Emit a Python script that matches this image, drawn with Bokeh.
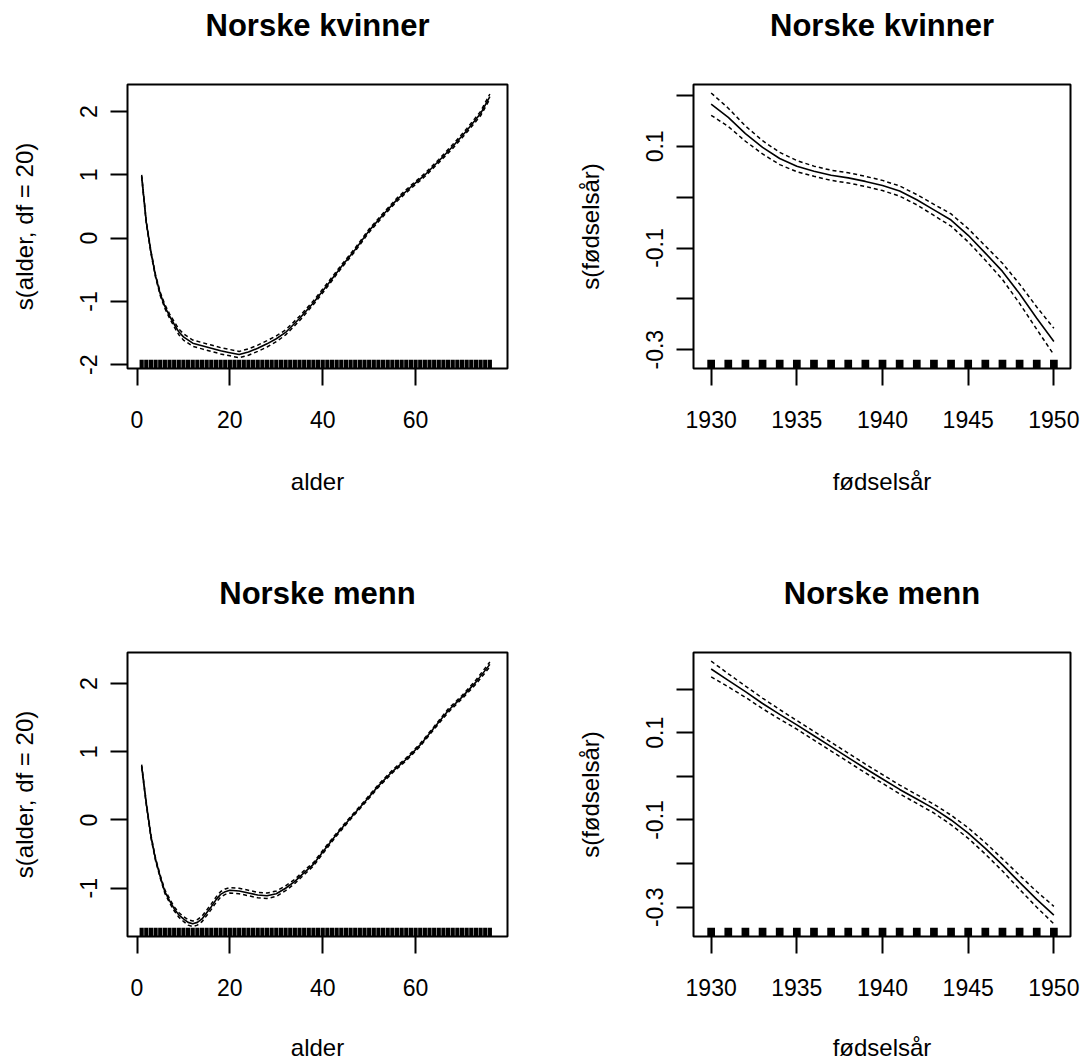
from bokeh.plotting import figure
from bokeh.layouts import gridplot
from bokeh.models import FixedTicker, PrintfTickFormatter, Range1d, LinearAxis
from bokeh.embed import file_html
from bokeh.resources import INLINE

FONT = "Liberation Sans"

# ---------------- data ----------------
# Norske kvinner: s(alder, df = 20)
age_k = [1, 2, 3, 4, 5, 6, 7, 8, 9, 10, 12, 14, 16, 18, 20, 22, 24, 26, 28, 30,
         32, 35, 38, 41, 44, 47, 50, 53, 56, 59, 62, 65, 68, 71, 74, 76]
fit_age_k = [0.98, 0.25, -0.22, -0.60, -0.88, -1.08, -1.23, -1.36, -1.48, -1.56,
             -1.66, -1.70, -1.74, -1.78, -1.81, -1.84, -1.80, -1.74, -1.67, -1.59,
             -1.49, -1.27, -1.02, -0.74, -0.45, -0.18, 0.12, 0.37, 0.61, 0.81,
             1.00, 1.22, 1.45, 1.70, 1.97, 2.24]
se_age_k = [0.02, 0.02, 0.02, 0.02, 0.025, 0.03, 0.035, 0.04, 0.045, 0.05,
            0.05, 0.05, 0.05, 0.05, 0.05, 0.05, 0.05, 0.05, 0.05, 0.045,
            0.04, 0.035, 0.03, 0.03, 0.025, 0.025, 0.025, 0.025, 0.025, 0.025,
            0.025, 0.025, 0.03, 0.03, 0.035, 0.04]

# Norske menn: s(alder, df = 20)
age_m = [1, 2, 3, 4, 5, 6, 7, 8, 9, 10, 11, 12, 13, 14, 15, 16, 17, 18, 19, 20,
         22, 24, 26, 28, 30, 32, 34, 36, 38, 40, 43, 46, 49, 52, 55, 58, 61, 64,
         67, 70, 73, 76]
fit_age_m = [0.79, 0.24, -0.24, -0.58, -0.83, -1.05, -1.18, -1.30, -1.39, -1.45,
             -1.50, -1.52, -1.50, -1.45, -1.36, -1.27, -1.17, -1.09, -1.05, -1.03,
             -1.04, -1.07, -1.10, -1.11, -1.08, -1.00, -0.90, -0.77, -0.65, -0.47,
             -0.21, 0.03, 0.26, 0.50, 0.71, 0.89, 1.10, 1.35, 1.60, 1.80, 2.02, 2.28]
se_age_m = [0.02, 0.02, 0.02, 0.02, 0.02, 0.025, 0.03, 0.03, 0.035, 0.035,
            0.04, 0.04, 0.04, 0.04, 0.04, 0.04, 0.04, 0.04, 0.04, 0.04,
            0.04, 0.04, 0.04, 0.04, 0.04, 0.035, 0.03, 0.03, 0.025, 0.025,
            0.02, 0.02, 0.02, 0.02, 0.02, 0.02, 0.02, 0.02, 0.025, 0.025, 0.03, 0.035]

# fødselsår
years = [1930, 1931, 1932, 1933, 1934, 1935, 1936, 1937, 1938, 1939, 1940,
         1941, 1942, 1943, 1944, 1945, 1946, 1947, 1948, 1949, 1950]
fit_year_k = [0.183, 0.157, 0.125, 0.098, 0.076, 0.061, 0.051, 0.043, 0.038, 0.031, 0.023,
              0.012, -0.005, -0.025, -0.045, -0.075, -0.110, -0.146, -0.190, -0.238, -0.284]
se_year_k = [0.022, 0.018, 0.015, 0.013, 0.012, 0.011, 0.010, 0.010, 0.010, 0.010, 0.010,
             0.010, 0.010, 0.011, 0.012, 0.013, 0.014, 0.016, 0.019, 0.022, 0.026]
fit_year_m = [0.246, 0.220, 0.194, 0.167, 0.142, 0.118, 0.093, 0.068, 0.043, 0.018, -0.006,
              -0.030, -0.052, -0.074, -0.100, -0.130, -0.165, -0.203, -0.243, -0.282, -0.318]
se_year_m = [0.018, 0.015, 0.013, 0.012, 0.011, 0.010, 0.010, 0.010, 0.010, 0.010, 0.010,
             0.010, 0.010, 0.010, 0.011, 0.012, 0.013, 0.014, 0.016, 0.018, 0.020]

# rug positions
rug_age = list(range(1, 77))
rug_year = years

# tick values
age_ticks = [0, 20, 40, 60]
year_ticks = [1930, 1935, 1940, 1945, 1950]
age_y_ticks = [-2, -1, 0, 1, 2]
year_y_labeled = [-0.3, -0.1, 0.1]
year_y_unlabeled = [-0.2, 0.0, 0.2]

titles = ["Norske kvinner", "Norske kvinner", "Norske menn", "Norske menn"]


def panel(title, x, fit, se, rug, rug_w, xr, yr, xticks, yticks, yminor,
          xlabel, ylabel, w, h, bl, br, bt, bb, xfmt, yfmt, xlab_standoff):
    p = figure(width=w, height=h, x_range=Range1d(*xr), y_range=Range1d(*yr),
               output_backend="svg", toolbar_location=None, title_location=None,
               min_border_left=bl, min_border_right=br,
               min_border_top=bt, min_border_bottom=bb,
               background_fill_color="white", border_fill_color="white")
    p.grid.visible = False
    p.outline_line_color = "black"
    p.outline_line_width = 2
    p.outline_line_alpha = 1.0

    xax = p.below[0]
    yax = p.left[0]
    for ax in (xax, yax):
        ax.axis_line_color = None
        ax.major_tick_in = 0
        ax.major_tick_out = 17
        ax.major_tick_line_width = 2
        ax.major_tick_line_color = "black"
        ax.minor_tick_in = 0
        ax.minor_tick_out = 17
        ax.minor_tick_line_width = 2
        ax.minor_tick_line_color = "black"
        ax.major_label_text_font = FONT
        ax.major_label_text_font_size = "23px"
        ax.major_label_text_color = "black"
        ax.axis_label_text_font = FONT
        ax.axis_label_text_font_size = "24px"
        ax.axis_label_text_font_style = "normal"
        ax.axis_label_text_color = "black"

    xax.ticker = FixedTicker(ticks=xticks, minor_ticks=[])
    yax.ticker = FixedTicker(ticks=yticks, minor_ticks=yminor)
    xax.formatter = PrintfTickFormatter(format=xfmt)
    yax.formatter = PrintfTickFormatter(format=yfmt)
    yax.major_label_orientation = "vertical"
    xax.axis_label = xlabel
    yax.axis_label = ylabel
    xax.major_label_standoff = 25
    xax.axis_label_standoff = xlab_standoff
    yax.major_label_standoff = 13
    yax.axis_label_standoff = 40

    # main title, drawn as the label of a tick-less axis above the box
    title_axis = LinearAxis(ticker=FixedTicker(ticks=[], minor_ticks=[]),
                            axis_line_color=None, major_tick_line_color=None,
                            minor_tick_line_color=None, major_tick_out=0, major_tick_in=0,
                            minor_tick_out=0, minor_tick_in=0,
                            major_label_standoff=0, major_label_text_font_size="0px",
                            axis_label=title, axis_label_standoff=42,
                            axis_label_text_font=FONT, axis_label_text_font_size="31px",
                            axis_label_text_font_style="bold", axis_label_text_color="black")
    p.add_layout(title_axis, "above")

    upper = [f + s for f, s in zip(fit, se)]
    lower = [f - s for f, s in zip(fit, se)]
    p.line(x, fit, line_color="black", line_width=1.6)
    p.line(x, upper, line_color="black", line_width=1.5, line_dash="4 3")
    p.line(x, lower, line_color="black", line_width=1.5, line_dash="4 3")

    y0 = yr[0]
    rug_top = y0 + 0.031 * (yr[1] - yr[0])
    p.vbar(x=rug, width=rug_w, bottom=y0, top=rug_top, fill_color="black", line_color=None)
    return p


p1 = panel(titles[0], age_k, fit_age_k, se_age_k, rug_age, 0.9,
           (-2.05, 79.8), (-2.06, 2.43), age_ticks, age_y_ticks, [],
           "alder", "s(alder, df = 20)", 543, 531, 127, 36, 84, 163, "%d", "%d", 37)
p2 = panel(titles[1], years, fit_year_k, se_year_k, rug_year, 0.45,
           (1928.97, 1950.97), (-0.337, 0.2216), year_ticks, year_y_labeled, year_y_unlabeled,
           "fødselsår", "s(fødselsår)", 543, 531, 150, 16, 84, 163, "%d", "%.1f", 37)
p3 = panel(titles[2], age_m, fit_age_m, se_age_m, rug_age, 0.9,
           (-2.05, 79.8), (-1.707, 2.454), age_ticks, age_y_ticks[1:], [],
           "alder", "s(alder, df = 20)", 543, 532, 127, 36, 121, 127, "%d", "%d", 35)
p4 = panel(titles[3], years, fit_year_m, se_year_m, rug_year, 0.45,
           (1928.97, 1950.97), (-0.367, 0.2838), year_ticks, year_y_labeled, year_y_unlabeled,
           "fødselsår", "s(fødselsår)", 543, 532, 150, 16, 121, 127, "%d", "%.1f", 35)

grid = gridplot([[p1, p2], [p3, p4]], toolbar_location=None)

open("out.html", "w").write(file_html(grid, INLINE))
